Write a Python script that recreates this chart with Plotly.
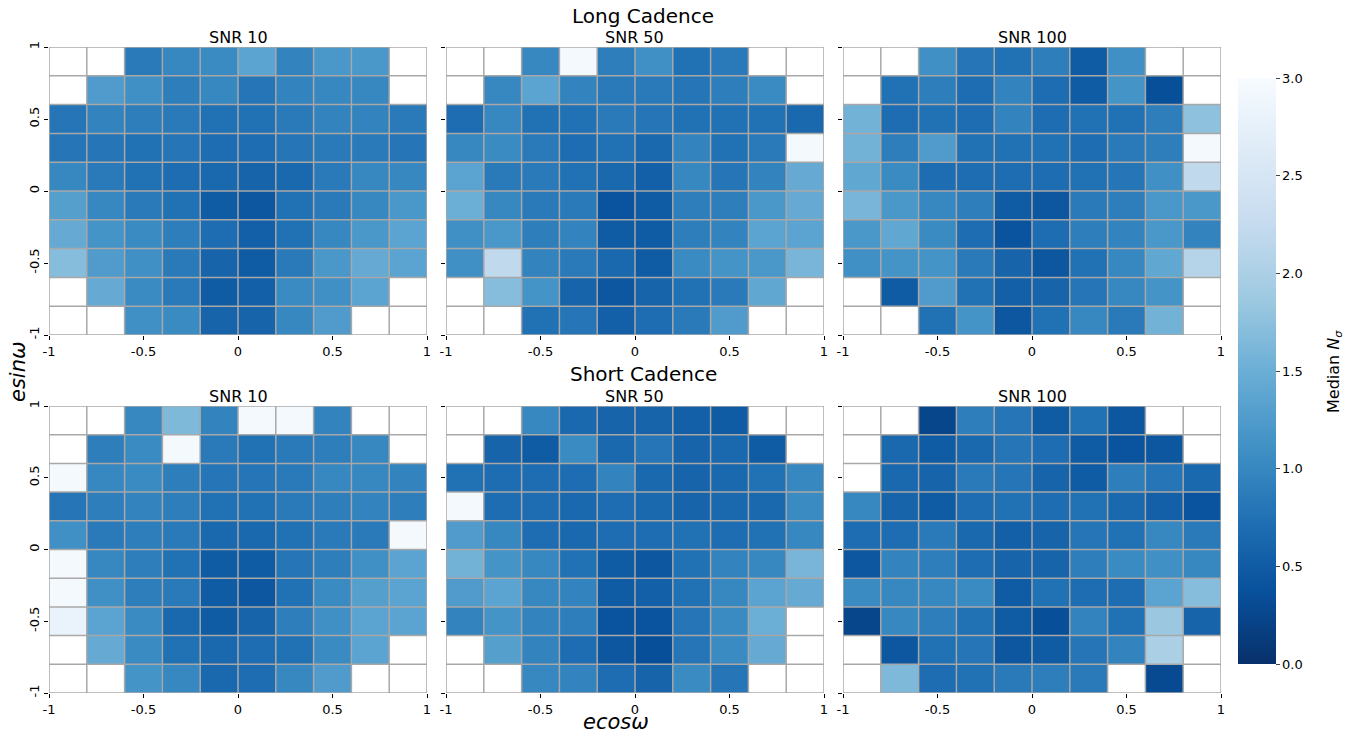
import numpy as np
import plotly.graph_objects as go

N = None
# bin centres
ecosw_centers = [-0.9, -0.7, -0.5, -0.3, -0.1, 0.1, 0.3, 0.5, 0.7, 0.9]
esinw_centers = [0.9, 0.7, 0.5, 0.3, 0.1, -0.1, -0.3, -0.5, -0.7, -0.9]  # rows listed top to bottom
bin_edges = [-1.0, -0.8, -0.6, -0.4, -0.2, 0.0, 0.2, 0.4, 0.6, 0.8, 1.0]
axis_ticks = [-1, -0.5, 0, 0.5, 1]
axis_ticklabels = ["-1", "-0.5", "0", "0.5", "1"]
cbar_ticks = [0.0, 0.5, 1.0, 1.5, 2.0, 2.5, 3.0]

lc_snr10 = [
    [N, N, 0.85, 1.0, 1.05, 1.35, 0.95, 1.2, 1.2, N],
    [N, 1.25, 1.1, 0.9, 1.0, 0.8, 0.95, 1.0, 1.0, N],
    [0.8, 0.95, 0.9, 0.85, 0.75, 0.75, 0.85, 0.95, 0.95, 0.85],
    [0.8, 0.8, 0.75, 0.8, 0.7, 0.7, 0.8, 0.85, 0.85, 0.8],
    [1.0, 0.85, 0.75, 0.7, 0.65, 0.6, 0.65, 0.85, 1.0, 1.0],
    [1.3, 1.0, 0.85, 0.75, 0.5, 0.45, 0.75, 0.85, 1.0, 1.2],
    [1.45, 1.15, 1.05, 0.9, 0.7, 0.55, 0.75, 1.0, 1.2, 1.35],
    [1.7, 1.25, 1.1, 0.85, 0.6, 0.5, 0.85, 1.2, 1.45, 1.35],
    [N, 1.45, 1.05, 0.85, 0.5, 0.55, 1.05, 1.1, 1.35, N],
    [N, N, 1.1, 1.05, 0.6, 0.6, 1.0, 1.25, N, N],
]
lc_snr50 = [
    [N, N, 1.0, 2.95, 0.9, 1.1, 0.75, 0.85, N, N],
    [N, 1.0, 1.35, 0.95, 0.85, 0.85, 0.8, 0.9, 1.05, N],
    [0.7, 1.0, 0.75, 0.75, 0.85, 0.8, 0.75, 0.75, 0.75, 0.65],
    [1.0, 1.05, 0.85, 0.7, 0.75, 0.65, 0.95, 0.75, 0.85, 2.95],
    [1.35, 0.85, 0.85, 0.75, 0.65, 0.55, 1.0, 0.8, 0.95, 1.45],
    [1.5, 1.0, 0.85, 0.85, 0.4, 0.5, 0.9, 0.9, 1.2, 1.45],
    [1.1, 1.2, 0.9, 0.95, 0.5, 0.5, 0.9, 0.95, 1.35, 1.35],
    [1.1, 2.2, 0.95, 0.85, 0.65, 0.5, 1.05, 1.15, 1.2, 1.6],
    [N, 1.7, 1.15, 0.6, 0.45, 0.6, 0.75, 0.85, 1.4, N],
    [N, N, 0.75, 0.8, 0.55, 0.7, 0.85, 1.25, N, N],
]
lc_snr100 = [
    [N, N, 1.1, 0.8, 0.75, 0.9, 0.5, 1.1, N, N],
    [N, 0.75, 0.9, 0.7, 0.95, 0.7, 0.5, 1.15, 0.35, N],
    [1.55, 0.7, 0.75, 0.7, 0.95, 0.7, 0.75, 0.75, 0.9, 1.75],
    [1.55, 0.9, 1.25, 0.75, 0.75, 0.75, 0.7, 0.85, 0.9, 2.95],
    [1.4, 1.05, 0.7, 0.7, 0.7, 0.7, 0.75, 0.8, 1.1, 2.2],
    [1.6, 1.2, 1.0, 0.9, 0.5, 0.45, 0.85, 0.9, 1.2, 1.2],
    [1.2, 1.4, 1.05, 0.7, 0.4, 0.7, 0.9, 0.95, 1.2, 0.95],
    [1.1, 1.15, 1.15, 0.85, 0.6, 0.45, 0.75, 1.0, 1.4, 2.1],
    [N, 0.5, 1.25, 0.75, 0.55, 0.6, 0.8, 1.0, 1.15, N],
    [N, N, 0.75, 1.15, 0.45, 0.75, 1.0, 0.85, 1.55, N],
]
sc_snr10 = [
    [N, N, 1.0, 1.65, 0.95, 2.95, 2.95, 0.95, N, N],
    [N, 0.9, 1.05, 2.95, 0.85, 0.75, 0.85, 0.9, 1.0, N],
    [2.95, 1.0, 1.05, 0.9, 0.8, 0.8, 0.85, 1.0, 1.0, 0.95],
    [0.8, 0.9, 0.95, 0.9, 0.75, 0.75, 0.85, 0.9, 0.95, 0.9],
    [1.1, 0.85, 0.9, 0.85, 0.65, 0.65, 0.75, 0.85, 0.85, 2.95],
    [2.95, 1.0, 0.9, 0.75, 0.5, 0.5, 0.8, 0.9, 1.1, 1.35],
    [2.95, 1.1, 0.9, 0.85, 0.5, 0.45, 0.75, 1.05, 1.3, 1.35],
    [2.8, 1.35, 1.05, 0.65, 0.5, 0.6, 0.9, 1.1, 1.35, 1.35],
    [N, 1.45, 1.05, 0.75, 0.65, 0.7, 0.75, 1.05, 1.35, N],
    [N, N, 1.15, 1.0, 0.65, 0.7, 1.0, 1.25, N, N],
]
sc_snr50 = [
    [N, N, 1.0, 0.65, 0.6, 0.6, 0.55, 0.5, N, N],
    [N, 0.6, 0.5, 1.05, 0.65, 0.8, 0.6, 0.65, 0.5, N],
    [0.75, 0.7, 0.7, 0.7, 0.95, 0.65, 0.6, 0.65, 0.75, 1.0],
    [2.95, 0.7, 0.7, 0.65, 0.7, 0.65, 0.6, 0.65, 0.65, 1.05],
    [1.25, 1.0, 0.7, 0.65, 0.7, 0.7, 0.75, 0.7, 0.75, 1.0],
    [1.55, 1.15, 1.0, 0.75, 0.5, 0.45, 0.75, 0.95, 1.0, 1.6],
    [1.25, 1.35, 1.0, 0.95, 0.5, 0.55, 0.75, 1.0, 1.35, 1.45],
    [0.95, 1.15, 0.95, 0.9, 0.4, 0.4, 0.8, 1.05, 1.5, N],
    [N, 1.3, 0.95, 0.7, 0.45, 0.35, 0.8, 1.05, 1.45, N],
    [N, N, 1.0, 0.95, 0.7, 0.6, 1.05, 0.8, N, N],
]
sc_snr100 = [
    [N, N, 0.25, 0.9, 0.8, 0.5, 0.75, 0.45, N, N],
    [N, 0.65, 0.5, 0.65, 0.8, 0.7, 0.5, 0.4, 0.45, N],
    [N, 0.65, 0.6, 0.85, 0.8, 0.6, 0.5, 0.9, 0.8, 0.65],
    [1.0, 0.6, 0.5, 0.7, 0.75, 0.7, 0.75, 0.65, 0.55, 0.4],
    [0.7, 0.7, 0.85, 0.65, 0.55, 0.6, 0.8, 0.75, 1.0, 0.85],
    [0.45, 0.95, 0.9, 0.7, 0.6, 0.6, 0.9, 1.05, 1.1, 1.0],
    [1.05, 1.0, 1.0, 1.05, 0.5, 0.75, 0.7, 0.7, 1.35, 1.7],
    [0.25, 1.0, 0.9, 0.75, 0.5, 0.35, 0.95, 0.75, 1.85, 0.6],
    [N, 0.45, 0.75, 0.8, 0.45, 0.5, 0.8, 0.95, 2.0, N],
    [N, 1.65, 0.7, 0.75, 0.85, 0.9, 0.85, N, 0.3, N],
]

panels = [lc_snr10, lc_snr50, lc_snr100, sc_snr10, sc_snr50, sc_snr100]
panel_titles = ["SNR 10", "SNR 50", "SNR 100", "SNR 10", "SNR 50", "SNR 100"]

# matplotlib "Blues_r"
blues = ["#08306b", "#08519c", "#2171b5", "#4292c6", "#6baed6",
         "#9ecae1", "#c6dbef", "#deebf7", "#f7fbff"]
colorscale = [[i / 8, c] for i, c in enumerate(blues)]

OFF = 8  # page body margin
W, H = 1359 - 2 * OFF, 739 - 2 * OFF
ML, MR, MT, MB = 0, 120, 0, 0
PW, PH = W - ML - MR, H - MT - MB


def px_x(p):
    return (p - OFF - ML) / PW


def px_y(p):
    return 1 - (p - OFF - MT) / PH


xdoms_px = [(49, 427), (446, 824), (843, 1221)]
ydoms_px = [(47, 335), (406, 693)]

FONT = "DejaVu Sans"
fig = go.Figure()
layout = dict(width=W, height=H, margin=dict(l=ML, r=MR, t=MT, b=MB, autoexpand=False),
              paper_bgcolor="white", plot_bgcolor="white",
              font=dict(family=FONT, color="black"), showlegend=False)
shapes = []
annotations = []
for i, z in enumerate(panels):
    r, c = divmod(i, 3)
    k = i + 1
    xs = "x" if k == 1 else f"x{k}"
    ys = "y" if k == 1 else f"y{k}"
    fig.add_trace(go.Heatmap(
        z=z, x=ecosw_centers, y=esinw_centers, xaxis=xs, yaxis=ys,
        zmin=0, zmax=3, colorscale=colorscale, showscale=(i == 0),
        hoverongaps=False,
        colorbar=dict(x=px_x(1238), xanchor="left", y=px_y(371), yanchor="middle",
                      xpad=0, ypad=0,
                      len=586, lenmode="pixels", thickness=38, thicknessmode="pixels",
                      outlinewidth=0, tickvals=cbar_ticks, tickformat=".1f",
                      ticks="outside", ticklen=4, tickfont=dict(size=13, family=FONT)),
    ))
    x0, x1 = xdoms_px[c]
    y0, y1 = ydoms_px[r]
    xa = dict(domain=[px_x(x0), px_x(x1)], range=[-1, 1], anchor=ys, automargin=False,
              tickvals=axis_ticks, ticktext=axis_ticklabels, ticks="outside",
              ticklen=4, tickcolor="black", showgrid=False, zeroline=False,
              showline=False, tickfont=dict(size=13, family=FONT))
    ya = dict(domain=[px_y(y1), px_y(y0)], range=[-1, 1], anchor=xs, automargin=False,
              tickvals=axis_ticks, ticktext=axis_ticklabels, showticklabels=(c == 0),
              ticks="outside", ticklen=4, tickcolor="black", showgrid=False,
              zeroline=False, showline=False, tickangle=-90,
              tickfont=dict(size=13, family=FONT))
    layout["xaxis" if k == 1 else f"xaxis{k}"] = xa
    layout["yaxis" if k == 1 else f"yaxis{k}"] = ya
    for e in bin_edges:
        shapes.append(dict(type="line", xref=xs, yref=ys, x0=e, x1=e, y0=-1, y1=1,
                           line=dict(color="#a8a8a8", width=1.5), layer="above"))
        shapes.append(dict(type="line", xref=xs, yref=ys, x0=-1, x1=1, y0=e, y1=e,
                           line=dict(color="#a8a8a8", width=1.5), layer="above"))
    annotations.append(dict(text=panel_titles[i], x=px_x((x0 + x1) / 2), y=px_y(y0 - 9.5),
                            xref="paper", yref="paper", xanchor="center", yanchor="middle",
                            showarrow=False, font=dict(size=16, family=FONT)))

annotations += [
    dict(text="Long Cadence", x=px_x(643), y=px_y(16), xref="paper", yref="paper",
         xanchor="center", yanchor="middle", showarrow=False, font=dict(size=20, family=FONT)),
    dict(text="Short Cadence", x=px_x(643), y=px_y(374), xref="paper", yref="paper",
         xanchor="center", yanchor="middle", showarrow=False, font=dict(size=20, family=FONT)),
    dict(text="<i>esinω</i>", x=px_x(18), y=px_y(372), xref="paper", yref="paper",
         xanchor="center", yanchor="middle", textangle=-90, showarrow=False,
         font=dict(size=21, family=FONT)),
    dict(text="<i>ecosω</i>", x=px_x(616), y=px_y(722), xref="paper", yref="paper",
         xanchor="center", yanchor="middle", showarrow=False, font=dict(size=21, family=FONT)),
    dict(text="Median <i>N</i><sub><i>σ</i></sub>", x=px_x(1334), y=px_y(371),
         xref="paper", yref="paper", xanchor="center", yanchor="middle", textangle=-90,
         showarrow=False, font=dict(size=16, family=FONT)),
]
layout["shapes"] = shapes
layout["annotations"] = annotations
fig.update_layout(**layout)
fig.write_html("out.html")
